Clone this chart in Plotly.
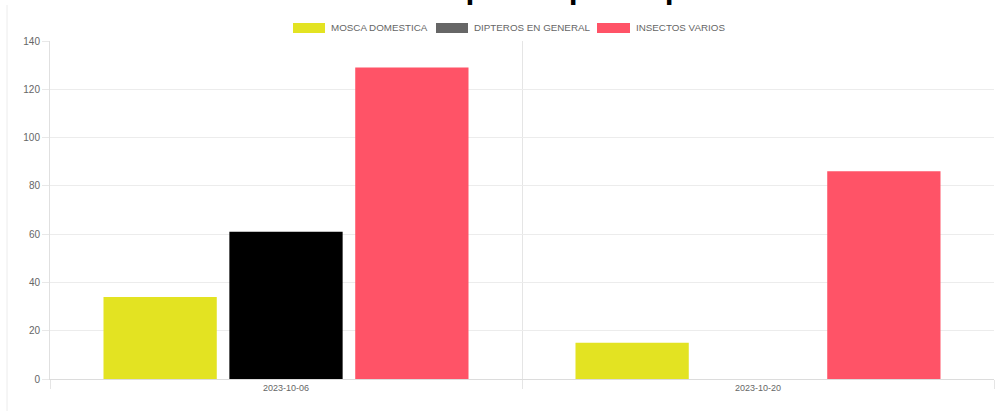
import plotly.graph_objects as go

categories = ["2023-10-06", "2023-10-20"]
series_names = ["MOSCA DOMESTICA", "DIPTEROS EN GENERAL", "INSECTOS VARIOS"]
mosca = [34, 15]
dipteros = [61, 0]
varios = [129, 86]
bar_colors = ["#e3e322", "#000000", "#ff5367"]
legend_colors = ["#e3e322", "#666666", "#ff5367"]
y_ticks = [0, 20, 40, 60, 80, 100, 120, 140]
title_text = "Cantidad de Insectos Atrapados por especie"

W, H = 995, 411
L, R, T, B = 50, 1, 41, 32
PW, PH = W - L - R, H - T - B

def px_x(px):
    return (px - L) / PW

def px_y(py):
    return (H - B - py) / PH

fig = go.Figure()
for name, vals, col in zip(series_names, [mosca, dipteros, varios], bar_colors):
    fig.add_trace(go.Bar(x=categories, y=vals, name=name, marker=dict(color=col, line=dict(width=0)),
                         showlegend=False))

font = "Liberation Sans, Arial, Helvetica, sans-serif"

# Legend drawn manually (wide color boxes like the reference)
legend_items = [(293, 325, 330), (436, 468, 473), (597, 630, 635)]
shapes = []
annotations = []
for (x0, x1, tx), name, col in zip(legend_items, series_names, legend_colors):
    shapes.append(dict(type="rect", xref="paper", yref="paper", x0=px_x(x0), x1=px_x(x1),
                       y0=px_y(33), y1=px_y(23), fillcolor=col, line=dict(width=0)))
    annotations.append(dict(xref="paper", yref="paper", x=px_x(tx - 1), y=px_y(28), xanchor="left",
                            yanchor="middle", text=name, showarrow=False,
                            font=dict(family=font, size=9.8, color="#666666")))

# Clipped title at top (the reference shows only its lower part)
annotations.append(dict(xref="paper", yref="paper", x=px_x(70), y=px_y(-13), xanchor="left",
                        yanchor="middle", text="<b>" + title_text + "</b>", showarrow=False,
                        font=dict(family=font, size=32, color="#000000")))

# card border on the left
shapes.append(dict(type="line", xref="paper", yref="paper", x0=px_x(7), x1=px_x(7),
                   y0=px_y(411), y1=px_y(5), line=dict(color="#ececec", width=1)))

fig.update_layout(
    width=W, height=H,
    margin=dict(l=L, r=R, t=T, b=B),
    paper_bgcolor="white", plot_bgcolor="white",
    barmode="group", bargap=0.2, bargroupgap=0.1,
    shapes=shapes, annotations=annotations,
    showlegend=False,
    xaxis=dict(type="category", tickson="boundaries", ticks="outside", ticklen=9,
               tickcolor="#e5e5e5", showgrid=True, gridcolor="#e5e5e5", showline=True,
               linecolor="#dcdcdc", linewidth=1, range=[-0.5, 1.5],
               tickfont=dict(family=font, size=9, color="#666666")),
    yaxis=dict(range=[0, 140], tickvals=y_ticks, ticks="outside", ticklen=7, tickcolor="#e8e8e8",
               showgrid=True, gridcolor="#ececec", showline=True, linecolor="#e0e0e0",
               zeroline=False, tickfont=dict(family=font, size=10, color="#666666")),
)

fig.write_html("out.html", config={"displayModeBar": False},
               post_script="document.body.style.margin='0';")
